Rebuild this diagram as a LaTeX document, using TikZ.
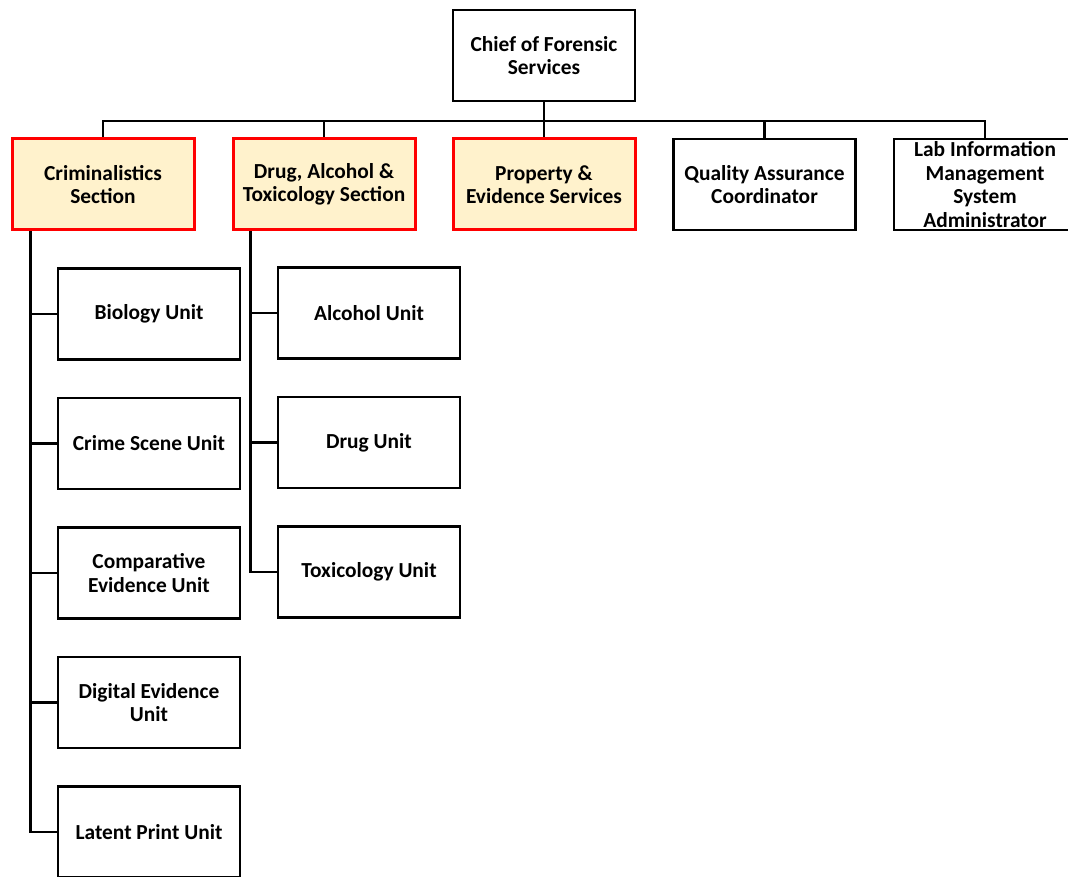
\documentclass[tikz,border=0pt]{standalone}
\usepackage{fontspec}
\setmainfont{Carlito}
\usetikzlibrary{positioning}
\definecolor{cream}{HTML}{FFF2CC}
\tikzset{
  unit/.style={draw,line width=1.25pt,minimum width=91pt,minimum height=45.5pt,
    align=center,inner sep=2pt,font=\bfseries\fontsize{10.7}{11.8}\selectfont},
  section/.style={unit,draw=red,line width=1.5pt,fill=cream},
  link/.style={line width=1.25pt}
}

\begin{document}
\begin{tikzpicture}[x=0.5pt,y=-0.5pt]
  \useasboundingbox (0,0) rectangle (1068,876);

  % Head of the lab and the row below it
  \node[unit] (chief) at (544,55.5) {Chief of Forensic\\Services};
  \node[section] (crim) at (103,184.5) {Criminalistics\\Section};
  \node[section] (drug) at (324,184.5) {Drug, Alcohol \&\\Toxicology Section};
  \node[section] (prop) at (544,184.5) {Property \&\\Evidence Services};
  \node[unit] (qa) at (764.5,184.5) {Quality Assurance\\Coordinator};
  \node[unit,inner ysep=0pt] (lims) at (985,184.5) {Lab Information\\Management\\System\\Administrator};

  % Units of the criminalistics section
  \node[unit] (bio) at (149,314) {Biology Unit};
  \node[unit,below=18pt of bio] (scene) {Crime Scene Unit};
  \node[unit,below=18pt of scene] (comp) {Comparative\\Evidence Unit};
  \node[unit,below=18pt of comp] (digital) {Digital Evidence\\Unit};
  \node[unit,below=18pt of digital] (latent) {Latent Print Unit};

  % Units of the drug section
  \node[unit] (alc) at (369,313) {Alcohol Unit};
  \node[unit,below=18pt of alc] (drugu) {Drug Unit};
  \node[unit,below=18pt of drugu] (tox) {Toxicology Unit};

  % Bus under the chief
  \coordinate (bus) at (544,121);
  \draw[link] (chief.south) -- (bus);
  \foreach \s in {crim,drug,prop,qa,lims}
    \draw[link] (bus) -| (\s.north);

  % Trunks down the left of each section
  \coordinate (ctrunk) at ([xshift=10pt]crim.south west);
  \draw[link] (ctrunk) |- (latent.west);
  \foreach \u in {bio,scene,comp,digital}
    \draw[link] (ctrunk |- \u.west) -- (\u.west);

  \coordinate (dtrunk) at ([xshift=9.5pt]drug.south west);
  \draw[link] (dtrunk) |- (tox.west);
  \foreach \u in {alc,drugu}
    \draw[link] (dtrunk |- \u.west) -- (\u.west);
\end{tikzpicture}
\end{document}
